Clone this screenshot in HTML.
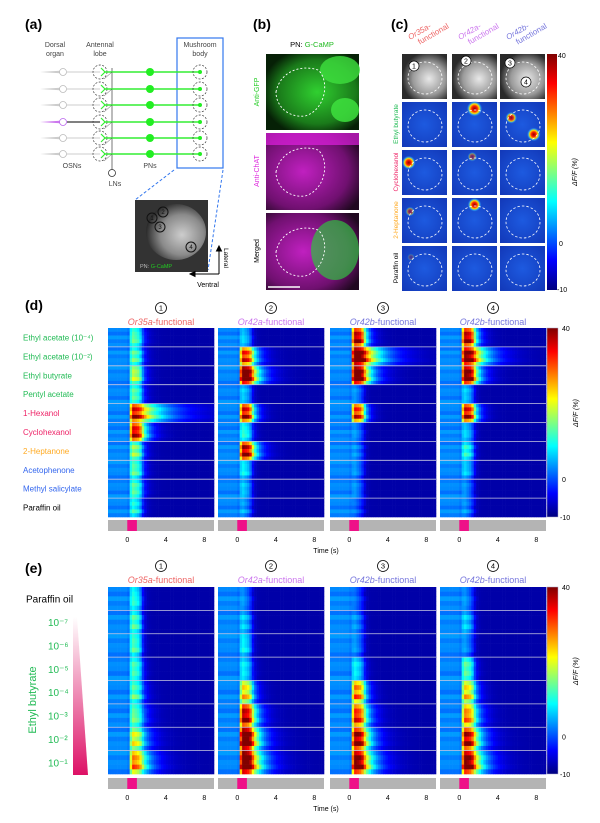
<!DOCTYPE html>
<html><head><meta charset="utf-8"><style>
html,body{margin:0;padding:0;background:#fff}
svg{display:block;font-family:"Liberation Sans",Arial,sans-serif}
</style></head><body>
<svg id="fig" width="600" height="823" viewBox="0 0 600 823" xmlns="http://www.w3.org/2000/svg">
<defs>
<linearGradient id="jet" x1="0" y1="1" x2="0" y2="0">
<stop offset="0" stop-color="#00007f"/><stop offset="0.125" stop-color="#0000ff"/><stop offset="0.375" stop-color="#00ffff"/><stop offset="0.625" stop-color="#ffff00"/><stop offset="0.875" stop-color="#ff0000"/><stop offset="1" stop-color="#7f0000"/>
</linearGradient>
<radialGradient id="gray1" cx="0.6" cy="0.55" r="0.6"><stop offset="0" stop-color="#e8e8e8"/><stop offset="0.6" stop-color="#9a9a9a"/><stop offset="1" stop-color="#2a2a2a"/></radialGradient>
<radialGradient id="green1" cx="0.55" cy="0.5" r="0.6"><stop offset="0" stop-color="#30d030"/><stop offset="0.7" stop-color="#1a7a1a"/><stop offset="1" stop-color="#062006"/></radialGradient>
<radialGradient id="mag1" cx="0.4" cy="0.5" r="0.7"><stop offset="0" stop-color="#c020c0"/><stop offset="0.7" stop-color="#701070"/><stop offset="1" stop-color="#200820"/></radialGradient>
<radialGradient id="hot" r="0.5"><stop offset="0" stop-color="#900000"/><stop offset="0.35" stop-color="#ff2000"/><stop offset="0.6" stop-color="#ffe000"/><stop offset="0.8" stop-color="#30c0ff" stop-opacity="0.6"/><stop offset="1" stop-color="#2050e0" stop-opacity="0"/></radialGradient>
<radialGradient id="bluebg" cx="0.5" cy="0.5" r="0.7"><stop offset="0" stop-color="#1d5ae0"/><stop offset="1" stop-color="#1238b8"/></radialGradient>
</defs>

<g>
<text x="25" y="29" font-size="14" font-weight="bold">(a)</text>
<text x="55" y="47" font-size="7" fill="#444" text-anchor="middle">Dorsal</text>
<text x="55" y="56" font-size="7" fill="#444" text-anchor="middle">organ</text>
<text x="100" y="47" font-size="7" fill="#444" text-anchor="middle">Antennal</text>
<text x="100" y="56" font-size="7" fill="#444" text-anchor="middle">lobe</text>
<rect x="177" y="38" width="46" height="130" fill="none" stroke="#3377ee" stroke-width="1.2"/>
<text x="200" y="47" font-size="7" fill="#444" text-anchor="middle">Mushroom</text>
<text x="200" y="56" font-size="7" fill="#444" text-anchor="middle">body</text>
<line x1="112" y1="68" x2="112" y2="170" stroke="#555" stroke-width="0.8"/>
<g id="circuit"></g>
<circle cx="112" cy="173" r="3.5" fill="#fff" stroke="#333" stroke-width="0.8"/>
<text x="72" y="168" font-size="7" fill="#444" text-anchor="middle">OSNs</text>
<text x="150" y="168" font-size="7" fill="#444" text-anchor="middle">PNs</text>
<text x="115" y="186" font-size="7" fill="#444" text-anchor="middle">LNs</text>
<line x1="174" y1="170" x2="135" y2="200" stroke="#3377ee" stroke-dasharray="3,2"/>
<line x1="223" y1="170" x2="208" y2="270" stroke="#3377ee" stroke-dasharray="3,2"/>
<rect x="135" y="200" width="73" height="72" fill="#333"/>
<ellipse cx="176" cy="232" rx="30" ry="28" fill="url(#gray1)" opacity="0.85"/>
<g font-size="6" text-anchor="middle" fill="#111">
<circle cx="152" cy="218" r="5" fill="none" stroke="#111"/><text x="152" y="220">1</text>
<circle cx="163" cy="212" r="5" fill="none" stroke="#111"/><text x="163" y="214">2</text>
<circle cx="160" cy="227" r="5" fill="none" stroke="#111"/><text x="160" y="229">3</text>
<circle cx="191" cy="247" r="5" fill="none" stroke="#111"/><text x="191" y="249">4</text>
</g>
<text x="140" y="268" font-size="5.5" fill="#bbb">PN: <tspan fill="#22cc22">G-CaMP</tspan></text>
<path d="M219 274 H190 M190 274 l5 -2.5 v5 z M219 274 V246 M219 246 l-2.5 5 h5 z" stroke="#000" fill="#000" stroke-width="1"/>
<text x="208" y="287" font-size="7" text-anchor="middle">Ventral</text>
<text x="224" y="258" font-size="6.5" transform="rotate(90 224 258)" text-anchor="middle">Lateral</text>
</g>

<g>
<text x="253" y="29" font-size="14" font-weight="bold">(b)</text>
<text x="312" y="47" font-size="7.5" text-anchor="middle">PN: <tspan fill="#22bb22">G-CaMP</tspan></text>
<rect x="266" y="54" width="93" height="76" fill="url(#green1)"/>
<ellipse cx="340" cy="70" rx="20" ry="14" fill="#3ee03e" opacity="0.8"/>
<ellipse cx="345" cy="110" rx="14" ry="12" fill="#3ee03e" opacity="0.85"/>
<rect x="266" y="133" width="93" height="77" fill="url(#mag1)"/>
<rect x="266" y="133" width="93" height="12" fill="#e020e0" opacity="0.7"/>
<rect x="266" y="213" width="93" height="77" fill="url(#mag1)"/>
<ellipse cx="335" cy="250" rx="24" ry="30" fill="#30c040" opacity="0.7"/>
<g fill="none" stroke="#fff" stroke-dasharray="2,2" stroke-width="0.9">
<path d="M276 92 C280 72 300 64 318 70 C330 80 326 110 305 116 C288 118 276 106 276 92Z"/>
<path d="M276 172 C280 152 300 144 318 150 C330 160 326 190 305 196 C288 198 276 186 276 172Z"/>
<path d="M276 252 C280 232 300 224 318 230 C330 240 326 270 305 276 C288 278 276 266 276 252Z"/>
</g>
<line x1="268" y1="287" x2="300" y2="287" stroke="#fff" stroke-width="1.5"/>
<text x="259" y="92" font-size="7" fill="#22cc22" text-anchor="middle" transform="rotate(-90 259 92)">Anti-GFP</text>
<text x="259" y="171" font-size="7" fill="#dd22dd" text-anchor="middle" transform="rotate(-90 259 171)">Anti-ChAT</text>
<text x="259" y="251" font-size="7" fill="#000" text-anchor="middle" transform="rotate(-90 259 251)">Merged</text>
</g>

<g id="panelc">
<text x="391" y="29" font-size="14" font-weight="bold">(c)</text>
<rect x="547" y="54" width="10" height="236" fill="url(#jet)"/>
<text x="558" y="58" font-size="7">40</text>
<text x="559" y="246" font-size="7">0</text>
<text x="557" y="292" font-size="7">-10</text>
<text x="577" y="172" font-size="7" font-style="italic" transform="rotate(-90 577 172)" text-anchor="middle">ΔF/F (%)</text>
</g>

<g id="heat"></g>
</svg>
<script>
const odorsD = ["Ethyl acetate (10\u207B\u2074)","Ethyl acetate (10\u207B\u00B2)","Ethyl butyrate","Pentyl acetate","1-Hexanol","Cyclohexanol","2-Heptanone","Acetophenone","Methyl salicylate","Paraffin oil"];
const odorColorsD = ["#22bb55","#22bb55","#22bb55","#22bb55","#ee2266","#ee2266","#ffaa22","#3366ee","#3366ee","#000000"];
const glomTitles = ["Or35a","Or42a","Or42b","Or42b"];
const glomColors = ["#ee6666","#cc77ee","#7777dd","#7777dd"];
const respD1 = [15,15,20,15,38,38,18,15,15,12];
const respD2 = [8,35,48,8,38,12,40,10,8,6];
const respD3 = [40,50,48,5,35,5,5,5,5,3];
const respD4 = [40,45,45,8,38,8,12,8,5,5];
const tailD1 = [0.5,0.5,0.5,0.5,2.5,0.8,0.5,0.5,0.5,0.4];
const tailD2 = [0.3,0.8,1.0,0.3,0.6,0.4,0.8,0.3,0.3,0.3];
const tailD3 = [0.6,1.8,1.0,0.3,0.5,0.3,0.3,0.3,0.3,0.3];
const tailD4 = [0.6,1.5,0.8,0.3,0.6,0.3,0.3,0.3,0.3,0.3];
const concE = ["Paraffin oil","10\u207B\u2077","10\u207B\u2076","10\u207B\u2075","10\u207B\u2074","10\u207B\u00B3","10\u207B\u00B2","10\u207B\u00B9"];
const respE1 = [12,14,14,14,15,16,22,30];
const respE2 = [5,8,10,10,25,40,50,50];
const respE3 = [3,5,5,10,30,35,42,45];
const respE4 = [5,8,5,15,25,30,40,45];
const tailE = [0.3,0.3,0.3,0.4,0.6,0.8,1.0,1.2];
const trialWeights = [0.8,1.0,0.9,1.1,0.75];
const preWeights = [1.0,0.6,1.3,0.8,1.1];
const timeTicks = [0,4,8];
const cbTicks = [40,0,-10];

const NS="http://www.w3.org/2000/svg";
function mk(tag,attrs,parent){const e=document.createElementNS(NS,tag);for(const k in attrs)e.setAttribute(k,attrs[k]);parent.appendChild(e);return e;}
function jet(v){let t=(v+10)/50;t=Math.max(0,Math.min(1,t));const c=x=>Math.round(255*Math.max(0,Math.min(1,1.5-Math.abs(x))));return `rgb(${c(4*t-3)},${c(4*t-2)},${c(4*t-1)})`;}
const tMin=-2,tMax=9,dt=0.25;

const circ=document.getElementById('circuit');
const rowsA=[72,89,105,122,138,154];
rowsA.forEach((y,i)=>{
  const purple=i===3;
  const g=mk('g',{},circ);
  
  
  mk('path',{d:`M40 ${y} L60 ${y-1.2} L60 ${y+1.2} Z`,fill:purple?'#cc77ee':'#ccc'},g);
  mk('line',{x1:67,y1:y,x2:100,y2:y,stroke:purple?'#000':'#ccc','stroke-width':1},g);
  mk('circle',{cx:63,cy:y,r:3.5,fill:'#fff',stroke:purple?'#bb66ee':'#bbb','stroke-width':0.8},g);
  mk('circle',{cx:100,cy:y,r:7,fill:'none',stroke:'#333','stroke-dasharray':'2,1.5','stroke-width':0.7},g);
  mk('line',{x1:104,y1:y,x2:200,y2:y,stroke:'#33ee33','stroke-width':1.6},g);
  mk('path',{d:`M101 ${y-4} L105 ${y} L101 ${y+4}`,fill:'none',stroke:'#33ee33','stroke-width':1.2},g);
  mk('circle',{cx:150,cy:y,r:4,fill:'#22ee22'},g);
  mk('circle',{cx:200,cy:y,r:2,fill:'#22ee22'},g);
  mk('circle',{cx:200,cy:y,r:7,fill:'none',stroke:'#333','stroke-dasharray':'2,1.5','stroke-width':0.7},g);
  mk('line',{x1:104,y1:y+7,x2:112,y2:y,stroke:'#555','stroke-width':0.5},g);
});

const pc=document.getElementById('panelc');
const cX=[402,452,500], cY=[54,102,150,198,246], cW=45, cH=45;
const cRowLabels=["Ethyl butyrate","Cyclohexanol","2-Heptanone","Paraffin oil"];
const cRowColors=["#22bb55","#ee2266","#ffaa22","#000"];
// per row, per column: list of [fx, fy, radius, amplitude]
const spotsC=[
  [[],[[0.5,0.15,8,40]],[[0.25,0.35,6,35],[0.75,0.72,7,40]]],
  [[[0.15,0.28,7,40]],[[0.45,0.15,5,20]],[]],
  [[[0.18,0.3,5,22]],[[0.5,0.15,7,40]],[]],
  [[[0.2,0.25,4,10]],[],[]]
];
["Or35a","Or42a","Or42b"].forEach((n,j)=>{
  const tx=cX[j]+8, ty=40;
  const t=mk('text',{x:tx,y:ty,'font-size':8,fill:glomColors[j],transform:`rotate(-30 ${tx} ${ty})`},pc);
  
  
  t.innerHTML=`<tspan font-style="italic">${n}-</tspan><tspan x="${tx+6}" dy="9">functional</tspan>`;
  for(let r=0;r<5;r++){
    const x=cX[j],y=cY[r];
    if(r===0){
      const im=mk('rect',{x,y,width:cW,height:cH,fill:'url(#gray1)'},pc);
      
      
    } else {
      const im=mk('rect',{x,y,width:cW,height:cH,fill:'url(#bluebg)'},pc);
      
      
      spotsC[r-1][j].forEach(s=>{
        const sp=mk('circle',{cx:x+cW*s[0],cy:y+cH*s[1],r:s[2],fill:'url(#hot)',opacity:Math.min(1,s[3]/40)},pc);
        
        
      });
    }
    const o=mk('ellipse',{cx:x+23,cy:y+24,rx:17,ry:16,fill:'none',stroke:'#fff','stroke-dasharray':'2.5,2','stroke-width':0.8},pc);
    
    
  }
});
[[1,414,66],[2,466,61],[3,510,63],[4,526,82]].forEach(([n,x,y])=>{
  const c=mk('circle',{cx:x,cy:y,r:5,fill:'#fff',stroke:'#000','stroke-width':0.7},pc);
  
  
  const t=mk('text',{x,y:y+2.5,'font-size':7,'text-anchor':'middle'},pc);t.textContent=n;
});
cRowLabels.forEach((l,i)=>{
  const y=cY[i+1]+22;
  const t=mk('text',{x:398,y,'font-size':6.5,fill:cRowColors[i],'text-anchor':'middle',transform:`rotate(-90 398 ${y})`},pc);
  t.textContent=l;
  
  
});

const heat=document.getElementById('heat');
const panelX=[108,218,330,440], panelW=106;
function drawPanel(x0,y0,h,resp,tails,nBlocks,parent){
  const g=mk('g',{},parent);
  
  
  const nT=Math.round((tMax-tMin)/dt), cw=panelW/nT;
  const bh=h/nBlocks, rh=bh/trialWeights.length;
  const xs=t=>x0+(t-tMin)/(tMax-tMin)*panelW;
  resp.forEach((A,b)=>{
    trialWeights.forEach((w,r)=>{
      const pw=preWeights[(r+b)%preWeights.length];
      for(let k=0;k<nT;k++){
        const t=tMin+(k+0.5)*dt;
        let base = t<0 ? 3*pw : Math.max(-8, 3*pw-6*t);
        let env=0;
        if(t>0.15){ env = t<0.5?(t-0.15)/0.35 : t<1.3?1 : Math.exp(-(t-1.3)/tails[b]); }
        const v=base+A*w*env;
        const c=mk('rect',{x:xs(t-dt/2).toFixed(2),y:(y0+b*bh+r*rh).toFixed(2),width:(cw+0.3).toFixed(2),height:(rh+0.3).toFixed(2),fill:jet(v)},g);
        
        
      }
    });
    if(b>0){const l=mk('line',{x1:x0,x2:x0+panelW,y1:y0+b*bh,y2:y0+b*bh,stroke:'#c8c8e0','stroke-width':0.8},g);
      
      }
  });
  return xs;
}
function drawStimAxis(x0,y,xs,parent){
  const r=mk('rect',{x:x0,y,width:panelW,height:11,fill:'#b4b4b4'},parent);
  
  
  const s=mk('rect',{x:xs(0),y,width:xs(1)-xs(0),height:11,fill:'#ee1188'},parent);
  
  
  timeTicks.forEach(tk=>{
    const t=mk('text',{x:xs(tk),y:y+22,'font-size':7,'text-anchor':'middle'},parent);
    t.textContent=tk;
    
    
  });
}
function drawTitles(y,parent){
  panelX.forEach((x,i)=>{
    const cx=x+panelW/2;
    const c=mk('circle',{cx,cy:y,r:5.5,fill:'none',stroke:'#000','stroke-width':0.8},parent);
    
    
    const n=mk('text',{x:cx,y:y+2.6,'font-size':7.5,'text-anchor':'middle'},parent);n.textContent=i+1;
    const t=mk('text',{x:cx,y:y+17,'font-size':9,fill:glomColors[i],'text-anchor':'middle'},parent);
    t.innerHTML=`<tspan font-style="italic">${glomTitles[i]}</tspan>-functional`;
    
    
  });
}
function drawColorbar(y0,h,parent){
  const r=mk('rect',{x:547,y:y0,width:11,height:h,fill:'url(#jet)',stroke:'#aac','stroke-width':0.5},parent);
  
  
  cbTicks.forEach(v=>{
    const y=y0+h*(40-v)/50;
    const t=mk('text',{x:v<0?560:562,y:y+3,'font-size':7},parent);t.textContent=v;
    
    
  });
  const ty=y0+h*0.45;
  const t=mk('text',{x:578,y:ty,'font-size':7,'font-style':'italic','text-anchor':'middle',transform:`rotate(-90 578 ${ty})`},parent);
  t.textContent='ΔF/F (%)';
  
  
}

const gd=mk('g',{},heat);


const dl=mk('text',{x:25,y:310,'font-size':14,'font-weight':'bold'},gd);dl.textContent='(d)';


drawTitles(308,gd);
const dY=328,dH=189;
const respD=[respD1,respD2,respD3,respD4], tailD=[tailD1,tailD2,tailD3,tailD4];
panelX.forEach((x,i)=>{const xs=drawPanel(x,dY,dH,respD[i],tailD[i],odorsD.length,gd);drawStimAxis(x,520,xs,gd);});
odorsD.forEach((o,i)=>{
  const t=mk('text',{x:23,y:dY+(i+0.5)*dH/odorsD.length+3,'font-size':8,fill:odorColorsD[i]},gd);
  t.textContent=o;
  
  
});
drawColorbar(dY,dH,gd);
const tl=mk('text',{x:326,y:553,'font-size':7,'text-anchor':'middle'},gd);tl.textContent='Time (s)';



const ge=mk('g',{},heat);


const el=mk('text',{x:25,y:573,'font-size':14,'font-weight':'bold'},ge);el.textContent='(e)';


drawTitles(566,ge);
const eY=587,eH=187;
const respE=[respE1,respE2,respE3,respE4];
panelX.forEach((x,i)=>{const xs=drawPanel(x,eY,eH,respE[i],tailE,concE.length,ge);drawStimAxis(x,778,xs,ge);});
concE.forEach((c,i)=>{
  const y=eY+(i+0.5)*eH/concE.length+4;
  const t=mk('text',{x:i===0?26:48,y,'font-size':10,fill:i===0?'#000':'#22bb55'},ge);
  t.textContent=c;
  
  
});
const defs=document.querySelector('defs');
const lg=mk('linearGradient',{id:'wedge',x1:0,y1:0,x2:0,y2:1},defs);
mk('stop',{offset:0,'stop-color':'#fff'},lg);mk('stop',{offset:1,'stop-color':'#dd1166'},lg);
const tri=mk('polygon',{points:'73,617 77,617 88,775 73,775',fill:'url(#wedge)'},ge);


const eb=mk('text',{x:36,y:700,'font-size':11,fill:'#22bb55','text-anchor':'middle',transform:'rotate(-90 36 700)'},ge);
eb.textContent='Ethyl butyrate';


drawColorbar(eY,eH,ge);
const tl2=mk('text',{x:326,y:811,'font-size':7,'text-anchor':'middle'},ge);tl2.textContent='Time (s)';


</script>
</body></html>
